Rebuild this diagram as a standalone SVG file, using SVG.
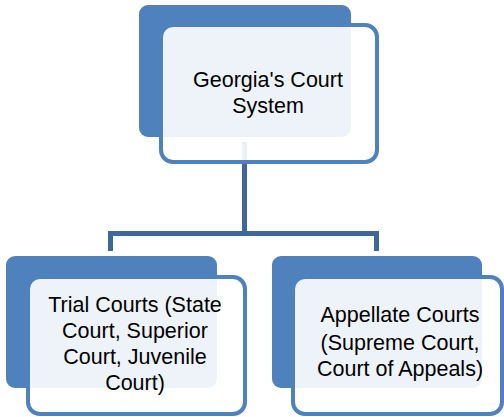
<svg xmlns="http://www.w3.org/2000/svg" width="504" height="417" viewBox="0 0 504 417">
<style>
.back{fill:#4F81BD}
.front{fill:#FFFFFF;fill-opacity:0.9;stroke:#4F81BD;stroke-width:4}
.conn{fill:none;stroke:#3F6797;stroke-width:5}
text{font-family:"Liberation Sans",Arial,sans-serif;font-size:21.5px;fill:#000;text-anchor:middle}
</style>
<rect width="504" height="417" fill="#FFFFFF"/>
<g id="connectors">
<path class="conn" d="M244.5,142 V233.5 M110.5,251 V233.5 H376.5 V251"/>
</g>
<g id="node-georgia">
<rect class="back" x="139" y="5" width="212" height="132" rx="9"/>
<rect class="front" x="161" y="25" width="216" height="137" rx="12"/>
<text x="268" y="87">Georgia's Court</text>
<text x="268" y="113">System</text>
</g>
<g id="node-trial">
<rect class="back" x="6" y="256" width="211" height="132" rx="9"/>
<rect class="front" x="28" y="277" width="217" height="137" rx="12"/>
<text x="135" y="312">Trial Courts (State</text>
<text x="135" y="338">Court, Superior</text>
<text x="135" y="364">Court, Juvenile</text>
<text x="135" y="390">Court)</text>
</g>
<g id="node-appellate">
<rect class="back" x="272" y="256" width="210" height="132" rx="9"/>
<rect class="front" x="293" y="277" width="209" height="137" rx="12"/>
<text x="400" y="322">Appellate Courts</text>
<text x="400" y="350">(Supreme Court,</text>
<text x="400" y="376">Court of Appeals)</text>
</g>
</svg>
